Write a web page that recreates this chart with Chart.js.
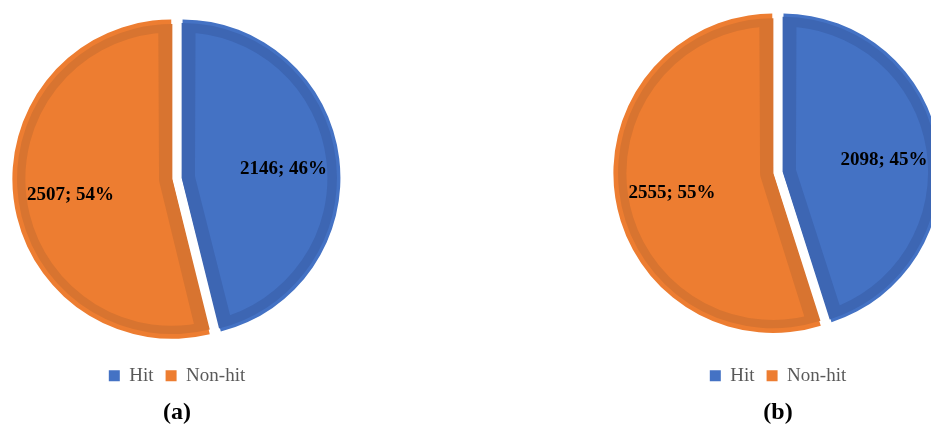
<!DOCTYPE html>
<html>
<head>
<meta charset="utf-8">
<title>Hit / Non-hit</title>
<script src="https://cdn.jsdelivr.net/npm/chart.js@4.4.1/dist/chart.umd.min.js"></script>
<style>
    html, body { margin: 0; padding: 0; background: #fff; }
    #wrap { position: relative; width: 931px; height: 427px; overflow: hidden; }
    #pie-a { position: absolute; left: 0; top: 0; }
    #pie-b { position: absolute; left: 600px; top: -12px; }
</style>
</head>
<body>
<div id="wrap">
    <canvas id="pie-a" width="354" height="427"></canvas>
    <canvas id="pie-b" width="356" height="439"></canvas>
</div>
<script>
const categories = ['Hit', 'Non-hit'];
const valuesA = [2146, 2507];
const valuesB = [2098, 2555];
const captions = ['(a)', '(b)'];

const fillColors = ['#4472C4', '#ED7D31'];
const edgeColors = ['#3D66B3', '#D87430'];
const serif = '"Liberation Serif", "Times New Roman", serif';

// "value; percent" written inside every slice
const sliceLabels = {
    id: 'sliceLabels',
    afterDatasetsDraw(chart) {
        const ctx = chart.ctx;
        const data = chart.data.datasets[0].data;
        const total = data.reduce((a, b) => a + b, 0);
        const meta = chart.getDatasetMeta(0);
        ctx.save();
        ctx.font = 'bold 19px ' + serif;
        ctx.fillStyle = '#000';
        ctx.textAlign = 'center';
        ctx.textBaseline = 'middle';
        meta.data.forEach((arc, i) => {
            const p = arc.getProps(['x', 'y', 'startAngle', 'endAngle', 'outerRadius', 'options'], true);
            const mid = (p.startAngle + p.endAngle) / 2;
            // arcs are pushed out by offset / 4 when drawn
            const dist = p.outerRadius * 0.66 + (p.options.offset || 0) / 4;
            const x = p.x + Math.cos(mid) * dist;
            const y = p.y + Math.sin(mid) * dist + 4;
            const pct = Math.round(data[i] / total * 100);
            ctx.fillText(data[i] + '; ' + pct + '%', x, y);
        });
        ctx.restore();
    }
};

function legendItems(chart) {
    const items = Chart.overrides.pie.plugins.legend.labels.generateLabels(chart);
    items.forEach(item => {
        item.lineWidth = 0;
        item.strokeStyle = item.fillStyle;
    });
    return items;
}

function makePie(canvasId, values, caption) {
    const ctx = document.getElementById(canvasId);
    return new Chart(ctx, {
        type: 'pie',
        data: {
            labels: categories,
            datasets: [{
                data: values,
                backgroundColor: fillColors,
                borderColor: edgeColors,
                borderWidth: 13,
                borderAlign: 'inner',
                offset: 20,
                hoverOffset: 0
            }]
        },
        options: {
            responsive: false,
            animation: false,
            radius: 155,
            layout: { padding: { top: 2.8 } },
            plugins: {
                tooltip: { enabled: false },
                legend: {
                    position: 'bottom',
                    labels: {
                        boxWidth: 11,
                        boxHeight: 11,
                        padding: 12,
                        color: '#595959',
                        font: { family: serif, size: 19 },
                        generateLabels: legendItems
                    }
                },
                title: {
                    display: true,
                    position: 'bottom',
                    text: caption,
                    color: '#000',
                    padding: { top: 3, bottom: 0 },
                    font: { family: serif, size: 24, weight: 'bold' }
                }
            }
        },
        plugins: [sliceLabels]
    });
}

makePie('pie-a', valuesA, captions[0]);
makePie('pie-b', valuesB, captions[1]);
</script>
</body>
</html>
